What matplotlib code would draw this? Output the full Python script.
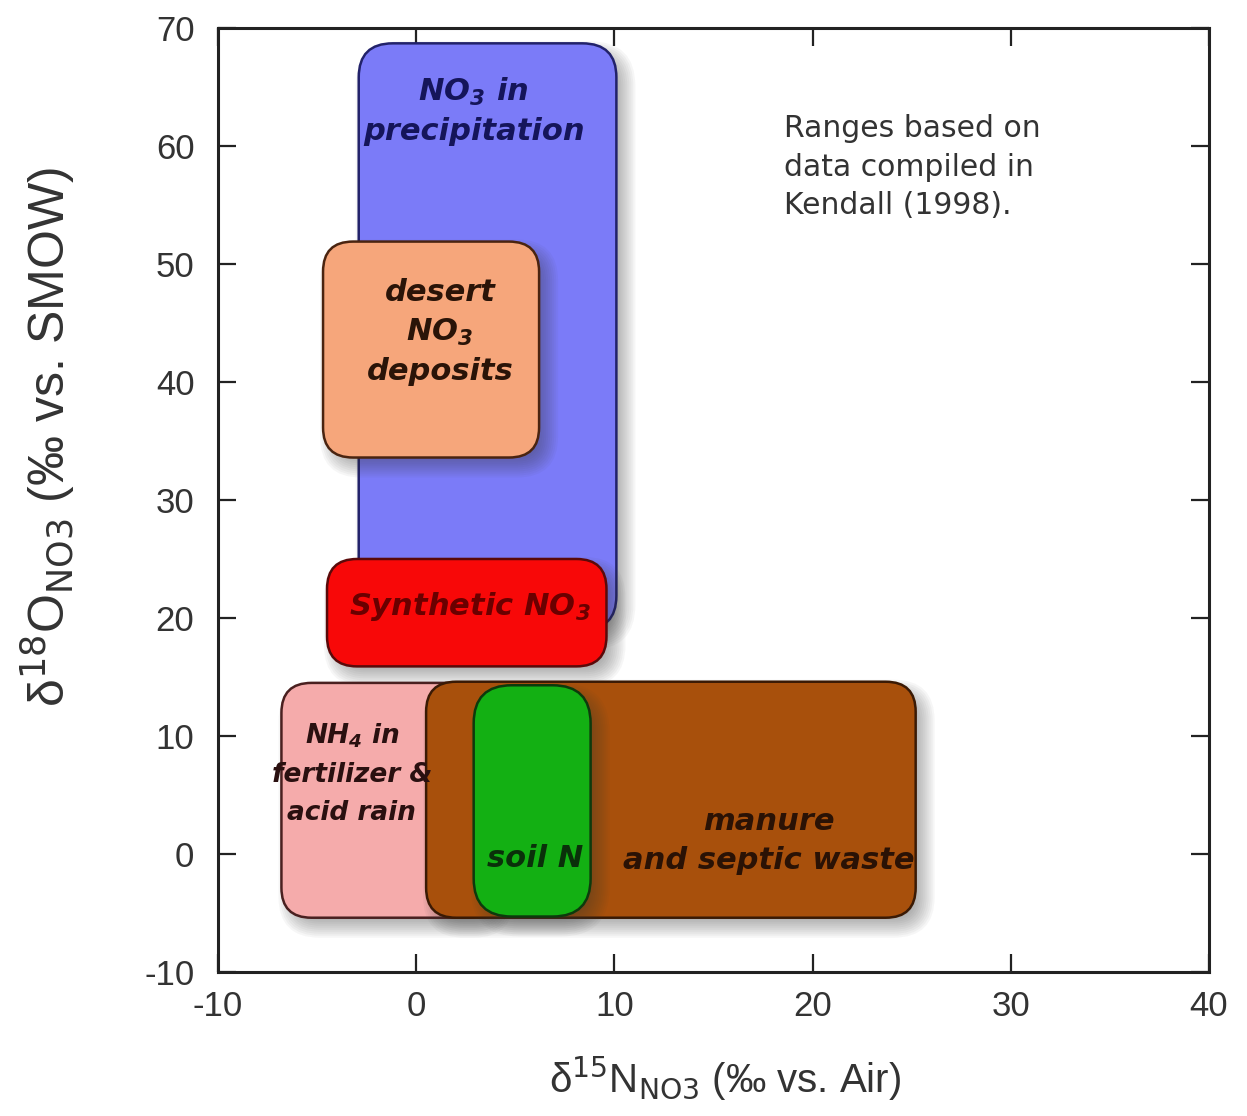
import matplotlib
matplotlib.use("Agg")
import matplotlib.pyplot as plt
from matplotlib.patches import FancyBboxPatch

plt.rcParams["axes.unicode_minus"] = False

# source ranges (d15N min/max, d18O min/max)
names = ["precip", "desert", "synthetic", "nh4", "manure", "soil"]
x_lo = [-2.9, -4.7, -4.5, -6.8, 0.5, 2.9]
x_hi = [10.1, 6.2, 9.6, 4.0, 25.2, 8.8]
y_lo = [19.0, 33.6, 15.9, -5.4, -5.4, -5.3]
y_hi = [68.7, 51.9, 25.0, 14.5, 14.6, 14.3]
face_colors = ["#7b7bf8", "#f6a67b", "#f80808", "#f5abab", "#a8500c", "#13b013"]
edge_colors = ["#22226a", "#4a2410", "#5a0a0a", "#4a2020", "#3a1a05", "#0d3a0d"]
corner_px = [34, 30, 30, 30, 30, 38]

labels = ["NO$_\\mathregular{3}$ in\nprecipitation",
          "desert\nNO$_\\mathregular{3}$\ndeposits",
          "Synthetic NO$_\\mathregular{3}$",
          "NH$_\\mathregular{4}$ in\nfertilizer &\nacid rain",
          "manure\nand septic waste",
          "soil N"]
label_x = [2.9, 1.2, 2.7, -3.25, 17.8, 6.0]
label_y = [63.0, 44.2, 21.0, 6.8, 1.1, -0.4]
label_size = [22, 22, 22, 19, 22, 22]
label_spacing = [1.4, 1.4, 1.4, 1.6, 1.4, 1.4]
label_colors = ["#15155a", "#2a1408", "#6a0000", "#2a1010", "#2a1205", "#0a300a"]
draw_order = [0, 1, 2, 3, 4, 5]

x_ticks = [-10, 0, 10, 20, 30, 40]
y_ticks = [-10, 0, 10, 20, 30, 40, 50, 60, 70]

W, H = 1247, 1116
fig = plt.figure(figsize=(W / 100, H / 100), dpi=100)
left, right, top, bottom = 218, 1209, 28, 972
ax = fig.add_axes([left / W, 1 - bottom / H, (right - left) / W, (bottom - top) / H])
ax.set_xlim(-10, 40)
ax.set_ylim(-10, 70)

px_x = (right - left) / 50.0
px_y = (bottom - top) / 80.0
aspect = px_x / px_y


def rbox(x0, x1, y0, y1, r_px, grow_px=0.0, **kw):
    gx = grow_px / px_x
    gy = grow_px / px_y
    r = max(r_px + grow_px, 1.0) / px_x
    return FancyBboxPatch((x0 - gx, y0 - gy), (x1 - x0) + 2 * gx, (y1 - y0) + 2 * gy,
                          boxstyle=f"round,pad=0,rounding_size={r}",
                          mutation_aspect=aspect, **kw)


z = 2
n_layers = 12
for i in draw_order:
    # soft drop shadow
    sx, sy = 8 / px_x, -9 / px_y
    for k in range(n_layers):
        g = 11 - 22 * k / (n_layers - 1)
        ax.add_patch(rbox(x_lo[i] + sx, x_hi[i] + sx, y_lo[i] + sy, y_hi[i] + sy,
                          corner_px[i], g, fc="#3a3a3a", ec="none", alpha=0.042,
                          zorder=z))
    z += 1
    ax.add_patch(rbox(x_lo[i], x_hi[i], y_lo[i], y_hi[i], corner_px[i],
                      fc=face_colors[i], ec=edge_colors[i], lw=1.8, zorder=z))
    z += 1

for i in draw_order:
    ax.text(label_x[i], label_y[i], labels[i], ha="center", va="center",
            fontsize=label_size[i], fontweight="bold", fontstyle="italic",
            family="DejaVu Sans", color=label_colors[i],
            linespacing=label_spacing[i], zorder=50)

ax.text(18.57, 58.2, "Ranges based on\ndata compiled in\nKendall (1998).",
        ha="left", va="center", fontsize=21.5, family="DejaVu Sans",
        color="#333333", linespacing=1.42, zorder=50)

ax.set_xticks(x_ticks)
ax.set_yticks(y_ticks)
ax.tick_params(direction="in", length=13, width=1.6, top=True, right=True,
               colors="#222222", labelcolor="#333333", labelsize=25)
ax.tick_params(axis="x", pad=13)
ax.tick_params(axis="y", pad=17)
for t in ax.get_xticklabels() + ax.get_yticklabels():
    t.set_family("Liberation Sans")
for s in ax.spines.values():
    s.set_linewidth(2.2)
    s.set_color("#222222")

ax.set_xlabel("δ$^{15}$N$_{\\mathrm{NO3}}$ (‰ vs. Air)", family="Liberation Sans",
              fontsize=29, color="#333333")
ax.set_ylabel("δ$^{18}$O$_{\\mathrm{NO3}}$ (‰ vs. SMOW)", family="Liberation Sans",
              fontsize=36, color="#333333")
ax.xaxis.set_label_coords(0.512, -0.088)
ax.yaxis.set_label_coords(-0.142, 0.567)

fig.savefig("out.png", dpi=100, facecolor="white")
